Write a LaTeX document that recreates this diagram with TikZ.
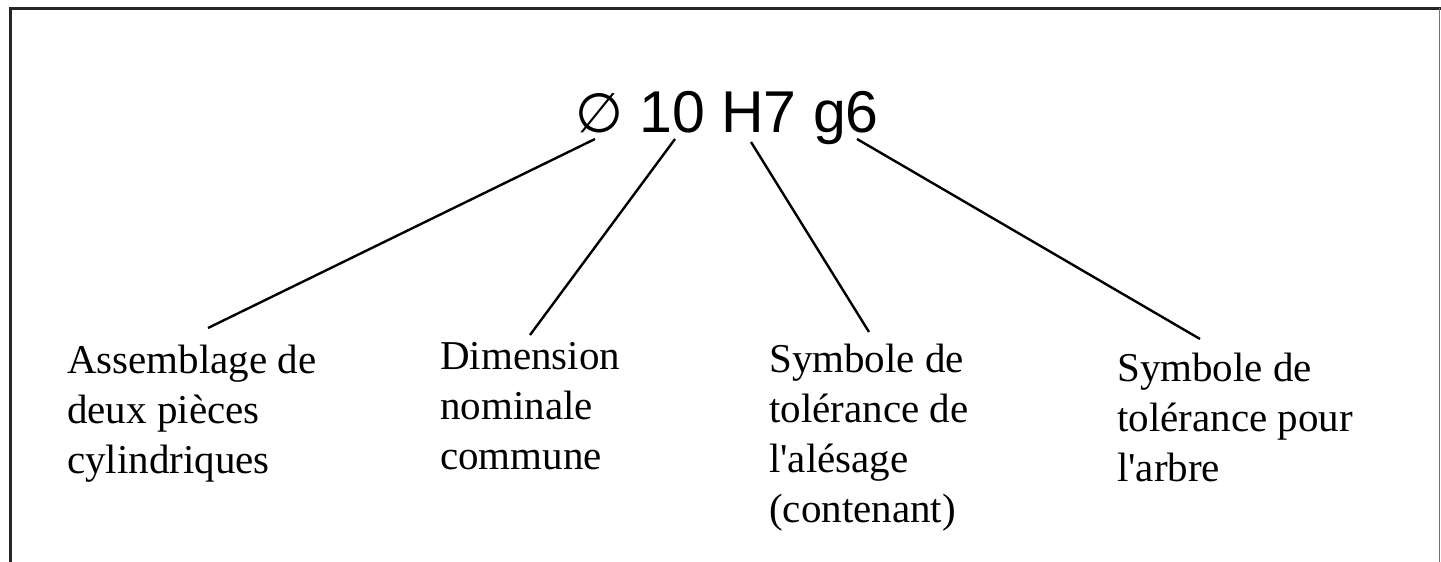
\documentclass[tikz,border=0pt]{standalone}
\usepackage{fontspec}
\setmainfont{Liberation Serif}
\newfontfamily\titlefont{Liberation Sans}
\newfontfamily\symfont{DejaVu Sans}
\begin{document}
\begin{tikzpicture}[x=1pt,y=-1pt,
  lbl/.style={anchor=base west,align=left,inner sep=0pt,font=\fontsize{41}{50}\selectfont},
  lead/.style={line width=2.4pt,black},
  frame/.style={line width=3pt,black!85}]
\useasboundingbox (0,0) rectangle (1441,562);
\draw[frame] (10,562) -- (10,8) -- (1441,8);
\draw[line width=1.8pt,black!55] (1439.5,8) -- (1439.5,562);
\node[anchor=base,inner sep=0pt,font=\fontsize{59}{70}\selectfont\titlefont] (title) at (727,132) {{\symfont\fontsize{55}{70}\selectfont ∅} 10 H7 g6};
\node[lbl] (l1) at (67,473) {Assemblage de\\deux pièces\\cylindriques};
\node[lbl] (l2) at (440,469) {Dimension\\nominale\\commune};
\node[lbl] (l3) at (769,522) {Symbole de\\tolérance de\\l\textquotesingle alésage\\(contenant)};
\node[lbl] (l4) at (1117,481) {Symbole de\\tolérance pour\\l\textquotesingle arbre};
\coordinate (s1) at (595,139);
\coordinate (s2) at (675,139);
\coordinate (s3) at (751,142);
\coordinate (s4) at (857,139);
\coordinate (e1) at (208,328);
\coordinate (e2) at (530,335);
\coordinate (e3) at (869,332);
\coordinate (e4) at (1200,339);
\draw[lead] (s1) -- (e1);
\draw[lead] (s2) -- (e2);
\draw[lead] (s3) -- (e3);
\draw[lead] (s4) -- (e4);
\end{tikzpicture}
\end{document}
